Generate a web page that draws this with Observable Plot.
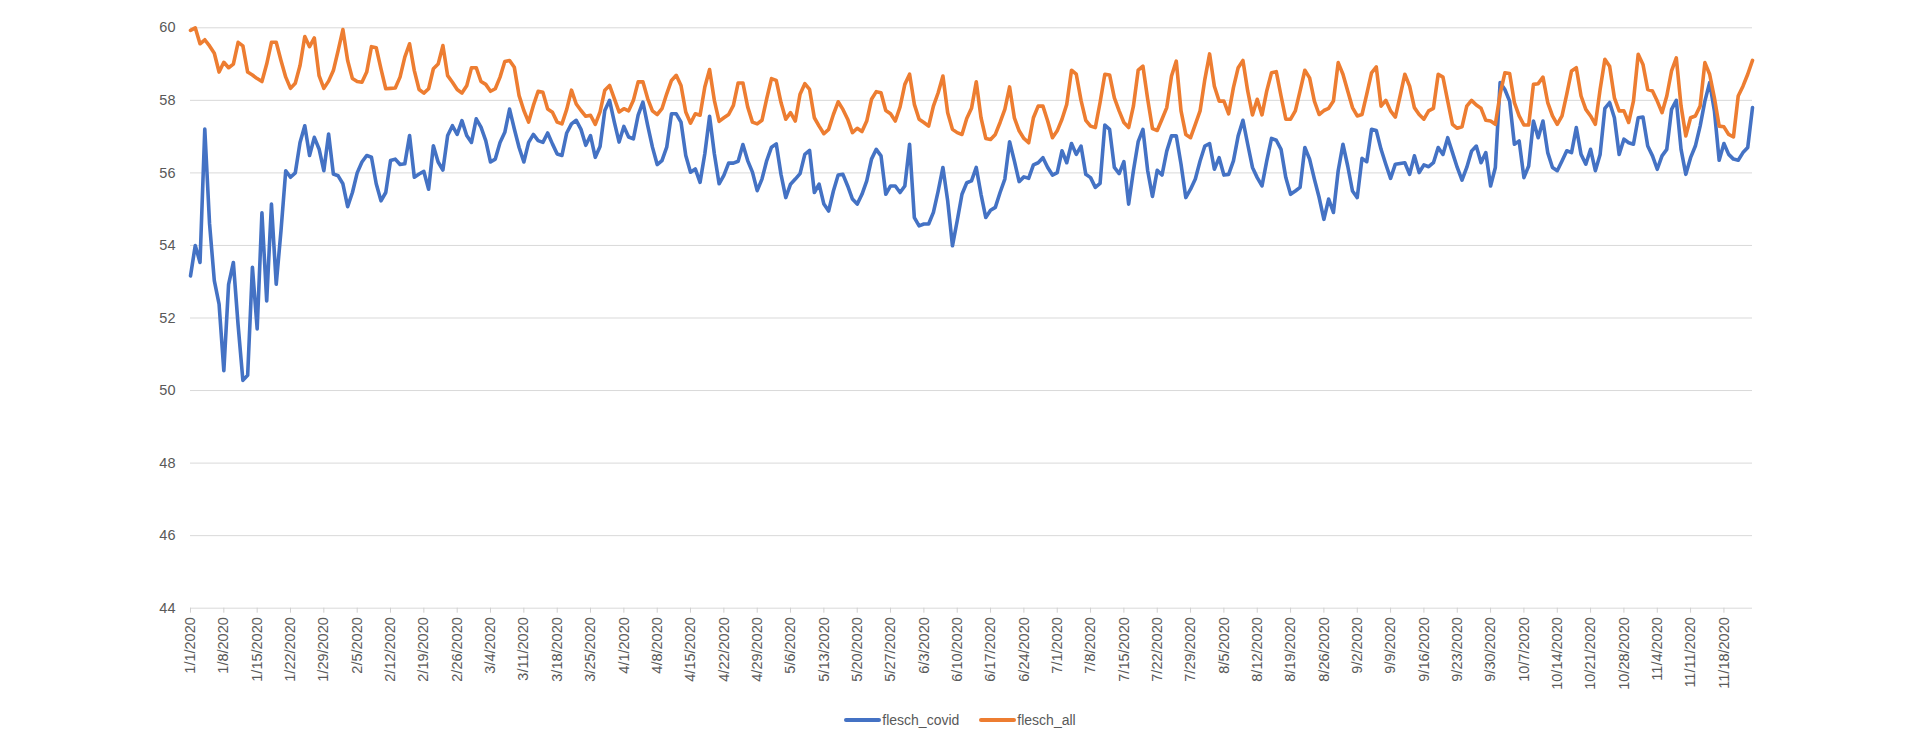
<!DOCTYPE html>
<html>
<head>
<meta charset="utf-8">
<script src="https://cdn.jsdelivr.net/npm/d3@7"></script>
<script src="https://cdn.jsdelivr.net/npm/@observablehq/plot@0.6"></script>
<style>
  html, body { margin: 0; padding: 0; background: #fff; }
  #wrap { width: 1920px; font-family: "Liberation Sans", Arial, sans-serif; }
  #legend { height: 30px; display: flex; justify-content: center; align-items: center; font-size: 14px; color: #595959; }
  .item { display: flex; align-items: center; }
  .sw { width: 37px; height: 4px; border-radius: 2px; margin-right: 1px; }
  .gap { width: 20px; }
</style>
</head>
<body>
<div id="wrap">
  <div id="chart"></div>
  <div id="legend"></div>
</div>
<script>
const startDate = "2020-01-01";
const seriesNames = ["flesch_covid", "flesch_all"];
const seriesColors = ["#4472C4", "#ED7D31"];
const yTicks = [44, 46, 48, 50, 52, 54, 56, 58, 60];
const xTickLabels = ["1/1/2020","1/8/2020","1/15/2020","1/22/2020","1/29/2020","2/5/2020","2/12/2020","2/19/2020","2/26/2020","3/4/2020","3/11/2020","3/18/2020","3/25/2020","4/1/2020","4/8/2020","4/15/2020","4/22/2020","4/29/2020","5/6/2020","5/13/2020","5/20/2020","5/27/2020","6/3/2020","6/10/2020","6/17/2020","6/24/2020","7/1/2020","7/8/2020","7/15/2020","7/22/2020","7/29/2020","8/5/2020","8/12/2020","8/19/2020","8/26/2020","9/2/2020","9/9/2020","9/16/2020","9/23/2020","9/30/2020","10/7/2020","10/14/2020","10/21/2020","10/28/2020","11/4/2020","11/11/2020","11/18/2020"];

const flesch_covid = [
53.16,54.0,53.53,57.21,54.6,53.03,52.38,50.55,52.93,53.53,
51.8,50.28,50.42,53.4,51.7,54.9,52.47,55.14,52.93,54.4,
56.06,55.88,56.0,56.84,57.3,56.48,56.98,56.66,56.06,57.07,
55.97,55.92,55.7,55.07,55.46,56.0,56.3,56.48,56.43,55.7,
55.23,55.46,56.34,56.38,56.23,56.25,57.03,55.88,55.97,56.04,
55.55,56.75,56.3,56.08,57.03,57.3,57.06,57.44,57.03,56.84,
57.49,57.26,56.89,56.3,56.38,56.84,57.12,57.76,57.21,56.7,
56.3,56.84,57.06,56.89,56.84,57.1,56.8,56.52,56.48,57.1,
57.35,57.45,57.2,56.76,57.03,56.43,56.73,57.72,58.0,57.4,
56.85,57.28,56.99,56.94,57.59,57.95,57.31,56.71,56.23,56.34,
56.71,57.63,57.63,57.4,56.48,56.02,56.11,55.74,56.53,57.56,
56.53,55.7,55.93,56.27,56.27,56.32,56.78,56.34,56.02,55.51,
55.83,56.34,56.71,56.8,55.96,55.32,55.69,55.83,55.98,56.51,
56.62,55.46,55.69,55.14,54.95,55.5,55.94,55.96,55.64,55.28,
55.14,55.41,55.78,56.38,56.65,56.47,55.41,55.64,55.64,55.46,
55.64,56.79,54.77,54.54,54.59,54.59,54.91,55.5,56.15,55.23,
53.99,54.68,55.41,55.73,55.78,56.15,55.41,54.77,54.97,55.05,
55.46,55.83,56.86,56.33,55.76,55.89,55.85,56.22,56.28,56.42,
56.15,55.94,56.01,56.61,56.28,56.81,56.51,56.74,55.96,55.87,
55.6,55.71,57.32,57.2,56.15,55.98,56.31,55.14,56.06,56.86,
57.2,56.06,55.35,56.07,55.94,56.6,57.02,57.02,56.24,55.32,
55.55,55.83,56.33,56.74,56.81,56.1,56.42,55.94,55.96,56.33,
57.02,57.45,56.79,56.15,55.87,55.64,56.33,56.95,56.9,56.65,
55.87,55.41,55.5,55.6,56.7,56.38,55.83,55.32,54.72,55.28,
54.91,56.06,56.79,56.19,55.5,55.32,56.4,56.31,57.2,57.17,
56.65,56.24,55.85,56.24,56.26,56.28,55.96,56.47,56.01,56.22,
56.17,56.28,56.7,56.51,56.97,56.56,56.15,55.8,56.15,56.6,
56.74,56.28,56.56,55.64,56.15,58.49,58.3,57.98,56.79,56.88,
55.87,56.19,57.43,56.97,57.43,56.56,56.15,56.06,56.33,56.61,
56.56,57.25,56.51,56.24,56.65,56.06,56.51,57.78,57.94,57.52,
56.51,56.93,56.83,56.79,57.52,57.54,56.74,56.47,56.1,56.47,
56.65,57.75,58.0,56.65,55.96,56.42,56.74,57.29,57.98,58.49,
57.71,56.35,56.81,56.51,56.38,56.35,56.56,56.7,57.8
];

const flesch_all = [
59.93,60.0,59.56,59.67,59.5,59.3,58.78,59.05,58.9,59.0,
59.6,59.5,58.78,58.7,58.6,58.52,59.0,59.6,59.6,59.1,
58.64,58.33,58.47,58.96,59.76,59.48,59.72,58.68,58.33,58.53,
58.82,59.37,59.95,59.1,58.6,58.52,58.5,58.78,59.48,59.45,
58.87,58.32,58.33,58.34,58.64,59.19,59.56,58.82,58.3,58.2,
58.32,58.87,59.0,59.51,58.68,58.5,58.3,58.2,58.4,58.9,
58.9,58.52,58.44,58.25,58.32,58.64,59.07,59.1,58.91,58.13,
57.72,57.4,57.86,58.25,58.22,57.76,57.67,57.4,57.35,57.75,
58.28,57.9,57.72,57.56,57.59,57.34,57.68,58.28,58.41,58.05,
57.68,57.77,57.71,58.0,58.51,58.51,58.05,57.71,57.61,57.77,
58.18,58.55,58.69,58.41,57.68,57.37,57.63,57.59,58.37,58.85,
58.0,57.42,57.52,57.61,57.86,58.48,58.48,57.82,57.4,57.35,
57.45,58.05,58.6,58.55,57.94,57.48,57.66,57.43,58.17,58.46,
58.3,57.52,57.29,57.08,57.2,57.61,57.96,57.75,57.48,57.11,
57.23,57.14,57.43,58.03,58.24,58.21,57.72,57.63,57.43,57.82,
58.44,58.72,57.89,57.48,57.39,57.29,57.84,58.21,58.67,57.66,
57.2,57.11,57.06,57.5,57.78,58.51,57.52,56.95,56.92,57.06,
57.39,57.75,58.37,57.52,57.16,56.95,56.83,57.52,57.84,57.84,
57.43,56.97,57.16,57.48,57.89,58.83,58.72,58.0,57.45,57.29,
57.25,57.94,58.72,58.7,58.07,57.71,57.39,57.25,57.84,58.83,
58.94,58.03,57.22,57.17,57.48,57.8,58.67,59.08,57.71,57.06,
56.97,57.34,57.71,58.58,59.28,58.39,57.98,57.98,57.63,58.35,
58.9,59.1,58.26,57.6,58.03,57.6,58.26,58.76,58.79,58.12,
57.48,57.48,57.71,58.26,58.83,58.62,57.98,57.61,57.72,57.78,
57.98,59.04,58.72,58.26,57.8,57.57,57.61,58.17,58.76,58.92,
57.84,58.0,57.71,57.54,58.12,58.72,58.39,57.8,57.61,57.48,
57.71,57.78,58.72,58.64,57.98,57.34,57.23,57.27,57.84,58.0,
57.87,57.78,57.45,57.43,57.34,58.17,58.76,58.74,57.94,57.57,
57.32,57.32,58.44,58.46,58.64,57.94,57.57,57.34,57.57,58.17,
58.81,58.9,58.12,57.75,57.57,57.34,58.3,59.13,58.94,58.07,
57.71,57.71,57.39,57.98,59.27,58.99,58.3,58.26,57.98,57.66,
58.12,58.81,59.17,57.84,57.02,57.52,57.57,57.84,59.04,58.72,
58.07,57.29,57.27,57.06,56.99,58.12,58.39,58.72,59.1
];

// build table
const t0 = new Date(startDate + "T00:00:00Z");
const parseMDY = s => { const [m, d, y] = s.split("/").map(Number); return new Date(Date.UTC(y, m - 1, d)); };
const tickDates = xTickLabels.map(parseMDY);
const labelByTime = new Map(tickDates.map((d, i) => [+d, xTickLabels[i]]));
const rows = [];
[flesch_covid, flesch_all].forEach((arr, s) => {
  arr.forEach((v, i) => rows.push({ series: seriesNames[s], date: d3.utcDay.offset(t0, i), value: v }));
});
const lastDate = d3.utcDay.offset(t0, flesch_covid.length - 1);

const chart = Plot.plot({
  width: 1920,
  height: 705,
  marginLeft: 190,
  marginRight: 168,
  marginTop: 27.3,
  marginBottom: 97.3,
  style: { fontFamily: "'Liberation Sans', Arial, sans-serif", background: "#fff", color: "#595959" },
  x: { type: "utc", domain: [t0, lastDate] },
  y: { domain: [44, 60] },
  color: { domain: seriesNames, range: seriesColors },
  marks: [
    Plot.gridY(yTicks, { stroke: "#d9d9d9", strokeOpacity: 1, strokeWidth: 1 }),
    Plot.axisY(yTicks, { tickSize: 0, tickPadding: 15, fontSize: 14.5, fill: "#595959", label: null }),
    Plot.axisX(tickDates, {
      tickRotate: -90, tickSize: 5, tickPadding: 4, fontSize: 14.5,
      stroke: "#d0d0d0", fill: "#595959", label: null,
      tickFormat: d => labelByTime.get(+d)
    }),
    Plot.lineY(rows, {
      x: "date", y: "value", z: "series", stroke: "series",
      strokeWidth: 3.6, strokeLinejoin: "round", strokeLinecap: "round"
    })
  ]
});
document.getElementById("chart").appendChild(chart);

// legend
const legend = document.getElementById("legend");
seriesNames.forEach((name, i) => {
  if (i > 0) { const g = document.createElement("div"); g.className = "gap"; legend.appendChild(g); }
  const item = document.createElement("div");
  item.className = "item";
  const sw = document.createElement("div");
  sw.className = "sw";
  sw.style.background = seriesColors[i];
  const tx = document.createElement("span");
  tx.textContent = name;
  item.appendChild(sw);
  item.appendChild(tx);
  legend.appendChild(item);
});
</script>
</body>
</html>
